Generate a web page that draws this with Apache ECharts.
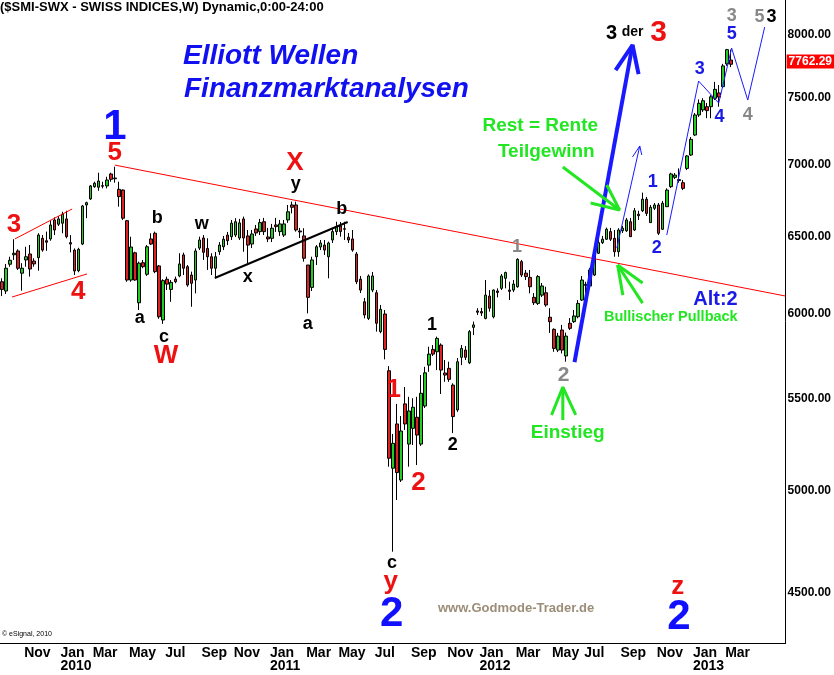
<!DOCTYPE html>
<html><head><meta charset="utf-8">
<script src="https://cdn.jsdelivr.net/npm/echarts@6/dist/echarts.min.js"></script>
<style>html,body{margin:0;padding:0;background:#fff}#main{width:834px;height:675px}</style>
</head><body><div id="main"></div>
<script>
// ---- weekly SMI candles (Sep 2009 - Mar 2013) ----
const firstWeek = '2009-09-28';
const weekCount = 195; // axis slots incl. empty weeks on the right
const opens = [6203,6144,6316,6378,6403,6258,6344,6383,6337,6359,
6487,6471,6483,6611,6582,6589,6618,6458,6409,6274,
6449,6714,6756,6842,6838,6849,6847,6932,6903,6823,
6818,6606,6214,6391,6070,6326,6251,6483,6521,6305,
5963,6219,6154,6220,6240,6377,6300,6246,6214,6422,
6489,6420,6365,6290,6398,6431,6509,6498,6509,6489,
6618,6503,6449,6550,6532,6599,6496,6487,6577,6532,
6509,6611,6714,6714,6536,6503,6311,6167,6365,6429,
6442,6365,6476,6532,6570,6552,6494,6483,6383,6219,
6076,5973,6150,6133,5892,6000,5659,5118,5357,5056,
5469,5247,5333,5394,5247,5457,5692,5785,5771,5811,
5646,5673,5576,5435,5738,5781,5706,5918,6019,6015,
5973,6112,5983,6144,6161,6225,6150,6150,6171,6333,
6258,6231,6104,6066,6118,6133,5980,5906,5781,5902,
5746,5943,5953,5983,6087,6186,6176,6246,6388,6458,
6481,6532,6487,6398,6538,6538,6599,6543,6650,6674,
6754,6593,6691,6714,6548,6702,6842,6908,6892,6870,
6972,7069,7216,7367,7405,7430,7430,7494,7536,7585,
7765,7796];
const closes = [6154,6290,6342,6388,6290,6290,6365,6285,6318,6509,
6409,6461,6577,6543,6618,6650,6498,6449,6272,6414,
6707,6730,6847,6866,6882,6845,6889,6894,6898,6772,
6623,6214,6429,6214,6323,6300,6431,6449,6268,5983,
6210,6188,6199,6203,6318,6290,6182,6193,6403,6476,
6394,6365,6290,6365,6442,6481,6471,6589,6599,6591,
6489,6442,6516,6523,6593,6532,6483,6555,6566,6584,
6584,6667,6698,6543,6530,6355,6104,6344,6431,6456,
6409,6456,6532,6566,6532,6548,6476,6409,6203,6150,
5994,6240,6240,5943,6029,5785,5171,5251,5095,5318,
5357,5429,5450,5296,5529,5647,5757,5757,5851,5663,
5634,5609,5398,5712,5791,5738,5892,5933,6011,6006,
6118,6036,6150,6135,6240,6262,6142,6188,6348,6246,
6236,6171,6070,6236,6176,6056,5953,5791,5865,5781,
5865,5912,5988,6066,6214,6180,6279,6370,6458,6481,
6548,6481,6398,6543,6555,6611,6498,6674,6640,6754,
6656,6698,6714,6521,6726,6818,6932,6924,6885,6830,
7062,7184,7367,7456,7476,7400,7506,7564,7504,7749,
7880,7762.29];
const highs = [6225,6318,6365,6481,6414,6323,6431,6442,6355,6521,
6509,6532,6611,6629,6638,6667,6674,6509,6420,6424,
6714,6737,6854,6877,6941,6877,6912,6941,6984,6877,
6823,6611,6498,6398,6333,6344,6442,6521,6532,6311,
6219,6236,6214,6236,6388,6392,6311,6268,6420,6498,
6509,6487,6388,6396,6462,6503,6530,6611,6623,6618,
6634,6543,6543,6577,6618,6625,6557,6584,6625,6611,
6611,6714,6737,6737,6557,6555,6311,6365,6442,6476,
6476,6465,6557,6599,6597,6599,6523,6543,6396,6240,
6100,6250,6266,6150,6056,6025,5686,5302,5469,5401,
5565,5509,5501,5509,5634,5682,5801,5811,5862,5821,
5722,5712,5586,5734,5811,5805,5902,5953,6036,6038,
6214,6150,6154,6161,6253,6268,6203,6214,6355,6344,
6279,6279,6131,6246,6195,6171,6036,5912,5884,5933,
5886,5975,6025,6087,6240,6203,6292,6383,6494,6503,
6559,6557,6543,6555,6570,6625,6625,6693,6674,6800,
6770,6714,6728,6728,6742,6830,6941,6939,6972,6889,
7069,7201,7382,7486,7496,7458,7519,7623,7598,7765,
7886,7880];
const lows = [6112,6125,6300,6344,6279,6146,6300,6236,6300,6274,
6398,6404,6471,6509,6570,6521,6487,6394,6246,6264,
6442,6623,6749,6834,6813,6830,6830,6877,6870,6702,
6611,6203,6203,6210,6025,6290,6240,6442,6258,5971,
5939,6150,6076,6193,6232,6246,6171,6045,6129,6409,
6344,6279,6246,6229,6377,6409,6442,6476,6496,6476,
6398,6323,6422,6503,6509,6509,6462,6462,6530,6503,
6496,6591,6656,6532,6489,6333,6004,6144,6311,6409,
6377,6225,6456,6509,6498,6476,6456,6398,6188,6131,
5973,5963,6137,5892,5882,5726,5126,4696,4953,5046,
5324,5126,5242,5135,5237,5446,5653,5746,5663,5525,
5595,5595,5307,5424,5692,5722,5698,5871,5994,5988,
5967,6015,5973,6104,6150,6161,6087,6137,6165,6233,
6214,6129,6056,6056,6106,6045,5884,5771,5769,5761,
5712,5902,5945,5973,6081,6118,6169,6240,6383,6449,
6476,6469,6365,6365,6523,6530,6496,6536,6611,6665,
6638,6591,6679,6509,6543,6700,6832,6896,6870,6818,
6960,7062,7209,7352,7390,7342,7342,7481,7430,7575,
7750,7740];

// ---- axis ticks ----
const priceTicks = [4500, 5000, 5500, 6000, 6500, 7000, 7500, 8000];
const monthNames = ['Jan','Feb','Mar','Apr','May','Jun','Jul','Aug','Sep','Oct','Nov','Dec'];
const priceMin = 4274, priceMax = 8294;

// ---- annotations (week index, price) ----
const waveLabels = [
  ['1', 28, 7275, 'bigBlue'], ['5', 28, 7085, 'red'],
  ['3', 3, 6577, 'red'], ['4', 18.9, 6137, 'red'],
  ['a', 34.2, 5975, 'black'], ['b', 38.5, 6625, 'black'], ['c', 40.2, 5859, 'black'],
  ['W', 40.7, 5745, 'red'], ['w', 49.6, 6585, 'black'], ['x', 61.0, 6233, 'black'],
  ['X', 72.7, 7015, 'red'], ['y', 72.9, 6861, 'black'], ['b', 84.3, 6686, 'black'],
  ['a', 75.9, 5939, 'black'],
  ['1', 97.2, 5548, 'red'], ['2', 103.4, 5040, 'red'],
  ['1', 106.7, 5933, 'black'], ['2', 111.9, 5242, 'black'],
  ['c', 96.8, 4641, 'black'], ['y', 96.5, 4552, 'red'], ['2', 96.7, 4400, 'bigBlue'],
  ['1', 127.8, 6430, 'gray'], ['2', 139.4, 5634, 'grayL'],
  ['Einstieg', 140.4, 5308, 'green'],
  ['Rest = Rente', 133.6, 7284, 'green'], ['Teilgewinn', 135.1, 7091, 'green'],
  ['3', 151.3, 8016, 'blackM'], ['der', 156.5, 8025, 'blackS'], ['3', 163, 8016, 'redL'],
  ['1', 161.5, 6875, 'blue'], ['2', 162.5, 6422, 'blue'],
  ['3', 173.2, 7724, 'blue'], ['4', 178.1, 7352, 'blue'], ['5', 181.1, 8008, 'blue'],
  ['3', 181.1, 8158, 'gray'], ['4', 185.1, 7367, 'gray'],
  ['5', 188.0, 8150, 'gray'], ['3', 191.0, 8150, 'black'],
  ['Alt:2', 177.1, 6093, 'blueM'], ['Bullischer Pullback', 166, 5981, 'greenS'],
  ['z', 167.7, 4528, 'red'], ['2', 168, 4390, 'bigBlue']
];
const redTrend = [[28, 6996], [194.5, 6112]];
const channelUpper = [[3.2, 6483], [17.4, 6686]];
const channelLower = [[2.5, 6106], [21.1, 6253]];
const blackLine = [[52.8, 6227], [85.8, 6597]];
const thickArrow = [[142.1, 5710], [156.5, 7918]];
const thickArrowHead = [[152.3, 7716], [156.5, 7918], [158.0, 7684]];
const thinArrow = [[152.6, 6422], [158.3, 7135]];
const thinArrowHead = [[156.5, 7055], [158.3, 7135], [158.8, 7069]];
const projection = [[165, 6509], [172.9, 7629], [177.9, 7458], [181.1, 7893], [185.1, 7481], [189.3, 8066]];
const greenArrows = [
  [[139.2, 5379], [139.2, 5565]], [[136.4, 5407], [139.2, 5565], [142.4, 5407]],
  [[139.2, 6982], [153.3, 6679]], [[150.1, 6854], [153.3, 6679], [146.1, 6728]],
  [[159.0, 6068], [152.8, 6311]], [[159.0, 6195], [152.8, 6311]], [[154.1, 6118], [152.8, 6311]]
];

// ---- build ----
const FONT = 'Liberation Sans, Arial, sans-serif';
const NARROW = 'Liberation Sans Narrow, Arial Narrow, ' + FONT;
const t0 = Date.parse(firstWeek + 'T00:00:00Z');
const weeks = Array.from({length: weekCount}, (_, i) => new Date(t0 + i * 7 * 864e5).toISOString().slice(0, 10));
const L = Math.log;
const candles = opens.map((o, i) => [L(o), L(closes[i]), L(lows[i]), L(highs[i])]);
const lastClose = closes[closes.length - 1];
const lastIdx = closes.length - 1;

const styles = {
  bigBlue: {color: '#1010ff', fontSize: 42},
  red: {color: '#ee1111', fontSize: 26},
  redL: {color: '#ee1111', fontSize: 30},
  black: {color: '#000', fontSize: 18},
  blackM: {color: '#000', fontSize: 20},
  blackS: {color: '#000', fontSize: 14},
  gray: {color: '#888888', fontSize: 18},
  grayL: {color: '#888888', fontSize: 21},
  blue: {color: '#1a1ae6', fontSize: 18},
  blueM: {color: '#1a1ae6', fontSize: 20},
  green: {color: '#22e622', fontSize: 19},
  greenS: {color: '#22e622', fontSize: 14.5}
};

const month = (idx) => new Date(weeks[idx] + 'T00:00:00Z').getUTCMonth();
function isLabelWeek(idx) {
  if (idx === 0 || idx > lastIdx + 2) return false;
  return month(idx) % 2 === 0 && month(idx) !== month(idx - 1);
}
const isYearWeek = (idx) => isLabelWeek(idx) && month(idx) === 0;
function lineSeries(pts, color, width) {
  return {type: 'line', xAxisIndex: 1, data: pts.map(p => [p[0], L(p[1])]), symbol: 'none',
    silent: true, lineStyle: {color: color, width: width, opacity: 1}, z: 5, animation: false};
}
const labelBase = {align: 'left', padding: [0, 0, 0, 2], fontFamily: NARROW, fontWeight: 'bold',
  fontSize: 14, lineHeight: 13, color: '#000', hideOverlap: false};

const chart = echarts.init(document.getElementById('main'));
chart.setOption({
  animation: false,
  backgroundColor: '#fff',
  grid: {left: 0, right: 48, top: 0, bottom: 32, containLabel: false},
  xAxis: [{
    type: 'category', data: weeks, boundaryGap: true, position: 'bottom',
    axisLine: {show: true, onZero: false, lineStyle: {color: '#000', width: 1}},
    axisTick: {show: false}, splitLine: {show: false},
    axisLabel: Object.assign({}, labelBase, {
      interval: (idx) => isLabelWeek(idx), margin: 4,
      formatter: (v, idx) => isLabelWeek(idx) ? monthNames[month(idx)] : ''
    })
  }, {type: 'value', min: -0.5, max: weekCount - 0.5, show: false},
  {
    type: 'category', data: weeks, boundaryGap: true, position: 'bottom',
    axisLine: {show: false, onZero: false}, axisTick: {show: false}, splitLine: {show: false},
    axisLabel: Object.assign({}, labelBase, {
      interval: (idx) => isYearWeek(idx), margin: 17,
      formatter: (v, idx) => isYearWeek(idx) ? v.slice(0, 4) : ''
    })
  }],
  yAxis: {
    type: 'value', position: 'right', min: L(priceMin), max: L(priceMax), scale: true,
    axisLine: {show: true, onZero: false, lineStyle: {color: '#000', width: 1}},
    axisTick: {show: false}, splitLine: {show: false},
    axisLabel: {customValues: priceTicks.map(L), formatter: (v) => Math.exp(v).toFixed(2),
      margin: 2, fontFamily: FONT, fontWeight: 'bold', fontSize: 12, color: '#000'}
  },
  graphic: [
    {type: 'text', left: 0, top: 1, style: {text: '($SMI-SWX - SWISS INDICES,W) Dynamic,0:00-24:00', font: 'bold 13px ' + FONT, fill: '#000'}},
    {type: 'text', left: 183, top: 42, style: {text: 'Elliott Wellen', font: 'italic bold 28px ' + FONT, fill: '#1010f0'}},
    {type: 'text', left: 184, top: 75, style: {text: 'Finanzmarktanalysen', font: 'italic bold 28px ' + FONT, fill: '#1010f0'}},
    {type: 'text', left: 438, top: 602, style: {text: 'www.Godmode-Trader.de', font: 'bold 13px ' + FONT, fill: '#9b8d78'}},
    {type: 'text', left: 2, top: 631, style: {text: '\u00a9 eSignal, 2010', font: '7px ' + FONT, fill: '#000'}}
  ],
  series: [
    {
      type: 'candlestick', data: candles, barWidth: 3, z: 3, silent: true,
      itemStyle: {color: '#22cc22', color0: '#dd2222', borderColor: '#000', borderColor0: '#000', borderWidth: 1},
      markLine: {silent: true, symbol: 'none', lineStyle: {color: 'rgba(0,0,0,0)', width: 0},
        data: [{yAxis: L(lastClose)}],
        label: {show: true, position: 'end', distance: 1, formatter: lastClose.toFixed(2), backgroundColor: '#ff0000',
          color: '#fff', fontWeight: 'bold', fontSize: 12, fontFamily: FONT, padding: [1, 2, 1, 2]}}
    },
    lineSeries(redTrend, '#ff0000', 1),
    lineSeries(channelUpper, '#ff0000', 1),
    lineSeries(channelLower, '#ff0000', 1),
    lineSeries(blackLine, '#000', 2),
    lineSeries(thickArrow, '#1a1aff', 4),
    lineSeries(thickArrowHead, '#1a1aff', 4),
    lineSeries(thinArrow, '#1a1aff', 1),
    lineSeries(thinArrowHead, '#1a1aff', 1),
    lineSeries(projection, '#1a1aff', 1),
    ...greenArrows.map(a => lineSeries(a, '#22e622', 3)),
    {
      type: 'scatter', xAxisIndex: 1, symbolSize: 1, silent: true, z: 10,
      itemStyle: {color: 'rgba(0,0,0,0)', opacity: 1},
      data: waveLabels.map(w => ({
        value: [w[1], L(w[2])],
        label: {show: true, position: 'inside', formatter: w[0], fontFamily: FONT, fontWeight: 'bold',
          color: styles[w[3]].color, fontSize: styles[w[3]].fontSize, opacity: 1}
      }))
    }
  ]
});
</script></body></html>
